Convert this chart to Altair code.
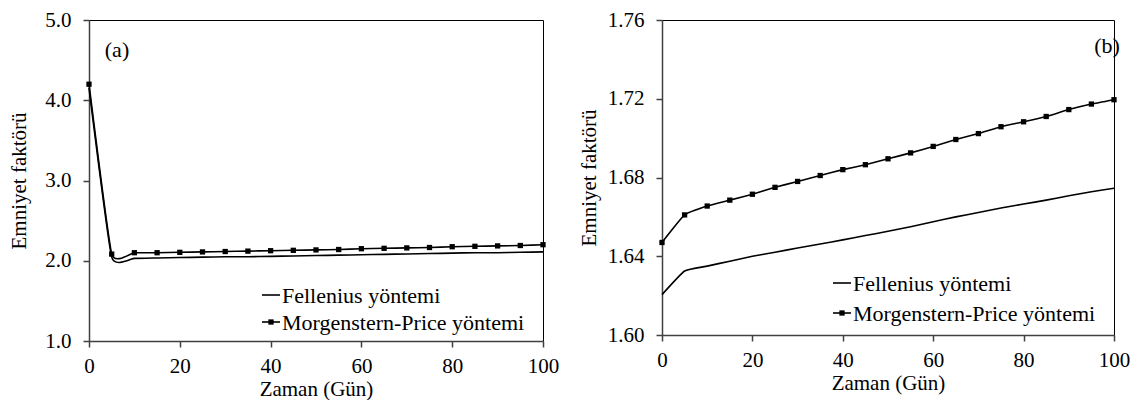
import altair as alt
import pandas as pd

# ---------------- data ----------------
days = [0, 5, 10, 15, 20, 25, 30, 35, 40, 45, 50, 55, 60, 65, 70, 75, 80, 85, 90, 95, 100]

# panel (a)
fell_a = [4.15, 2.045, 2.03, 2.035, 2.04, 2.045, 2.05, 2.05, 2.055, 2.06, 2.065,
          2.07, 2.075, 2.08, 2.085, 2.09, 2.095, 2.10, 2.10, 2.105, 2.11]
morg_a = [4.20, 2.083, 2.10, 2.10, 2.105, 2.11, 2.115, 2.12, 2.125, 2.13, 2.135,
          2.14, 2.15, 2.155, 2.16, 2.165, 2.175, 2.18, 2.185, 2.19, 2.20]

# panel (b)
fell_b = [1.6205, 1.6325, 1.635, 1.6375, 1.640, 1.642, 1.6442, 1.6462, 1.6483, 1.6505,
          1.6527, 1.655, 1.6575, 1.660, 1.6622, 1.6645, 1.6665, 1.6685, 1.6707, 1.6728, 1.6745]
morg_b = [1.647, 1.661, 1.6655, 1.6685, 1.6715, 1.675, 1.678, 1.681, 1.684, 1.6865,
          1.6895, 1.6925, 1.6958, 1.6993, 1.7023, 1.7058, 1.7083, 1.711, 1.7145, 1.7173, 1.7195]

series_names = ["Fellenius yöntemi", "Morgenstern-Price yöntemi"]
x_title = "Zaman (Gün)"
y_title = "Emniyet faktörü"
x_ticks = [0, 20, 40, 60, 80, 100]
y_ticks_a = [1.0, 2.0, 3.0, 4.0, 5.0]
y_ticks_b = [1.60, 1.64, 1.68, 1.72, 1.76]
panel_labels = ["(a)", "(b)"]

FONT = "Liberation Serif, Times New Roman, DejaVu Serif, serif"


def panel(fell, morg, yticks, yfmt, w, h, title_pad, label, label_xy, leg_x, leg_y):
    df = pd.DataFrame({
        "day": days * 2,
        "fs": fell + morg,
        "series": [series_names[0]] * len(days) + [series_names[1]] * len(days),
    })
    x = alt.X("day:Q", title=x_title,
              scale=alt.Scale(domain=[x_ticks[0], x_ticks[-1]], nice=False),
              axis=alt.Axis(values=x_ticks, format="d"))
    y = alt.Y("fs:Q", title=y_title,
              scale=alt.Scale(domain=[yticks[0], yticks[-1]], nice=False, zero=False),
              axis=alt.Axis(values=yticks, format=yfmt, titlePadding=title_pad))
    base = alt.Chart(df)
    lines = base.mark_line(interpolate="cardinal", tension=0.6, color="black",
                           strokeWidth=1.6).encode(x=x, y=y, detail="series:N")
    pts = base.transform_filter(alt.datum.series == series_names[1]).mark_point(
        shape="square", filled=True, color="black", size=28, opacity=1).encode(x=x, y=y)

    lab = alt.Chart(pd.DataFrame({"t": [label]})).mark_text(
        font=FONT, fontSize=22, align="center", baseline="middle", color="black").encode(
        x=alt.value(label_xy[0]), y=alt.value(label_xy[1]), text="t:N")

    layers = [lines, pts, lab]
    for i, name in enumerate(series_names):
        ldf = pd.DataFrame({"series": [name]})
        lc = alt.Chart(ldf)
        layers.append(lc.mark_rule(color="black", strokeWidth=1.6).encode(
            x=alt.value(leg_x), x2=alt.value(leg_x + 18), y=alt.value(leg_y[i])))
        layers.append(lc.mark_text(font=FONT, fontSize=22, align="left", baseline="middle",
                                   color="black").encode(
            x=alt.value(leg_x + 20), y=alt.value(leg_y[i] + 1), text="series:N"))
        if i == 1:
            layers.append(lc.mark_point(shape="square", filled=True, color="black",
                                        size=28, opacity=1).encode(
                x=alt.value(leg_x + 9), y=alt.value(leg_y[i])))
    return alt.layer(*layers).properties(width=w, height=h)


left = panel(fell_a, morg_a, y_ticks_a, ".1f", 454, 321, 15, panel_labels[0], (28, 30),
             173, [275, 302])
right = panel(fell_b, morg_b, y_ticks_b, ".2f", 452, 315, 8, panel_labels[1], (445, 26),
              171, [263, 293])

chart = alt.hconcat(left, right, spacing=119, bounds="flush").properties(
    padding={"left": 0, "top": 0, "right": 0, "bottom": 0}
).configure_view(
    stroke="black", strokeWidth=1
).configure_axis(
    grid=False,
    labelFont=FONT, titleFont=FONT,
    labelFontSize=21, titleFontSize=21,
    titleFontWeight="normal",
    labelColor="black", titleColor="black",
    domainColor="#404040", domainWidth=1.5,
    tickColor="#404040", tickWidth=1.5, tickSize=6,
    labelPadding=12,
).configure_axisX(
    labelPadding=8, titlePadding=2, labelFlush=False
).configure_axisY(
    labelFlush=False
)

chart.save("out.html", embed_options={"renderer": "svg", "actions": False})
